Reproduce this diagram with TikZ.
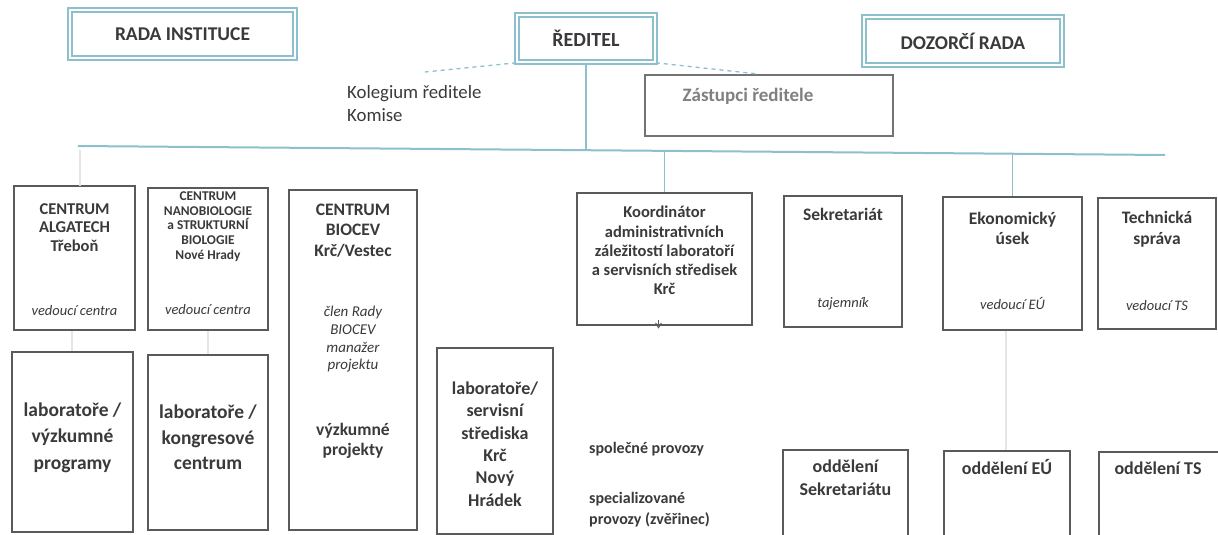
\documentclass[tikz,border=0pt]{standalone}
\usepackage{fontspec}
\setmainfont{Carlito}
\usetikzlibrary{arrows.meta}
\definecolor{tealc}{HTML}{8CC0CD}
\definecolor{boxc}{HTML}{5A5A5A}
\definecolor{txtc}{HTML}{3A3A3A}
\definecolor{greyt}{HTML}{808080}
\newcommand\myfs[2]{\fontsize{#1}{#2}\selectfont}
\tikzset{
  topbox/.style={draw=tealc, double=white, double distance=2.5pt, line width=1.6pt, inner sep=0pt},
  orgbox/.style={draw=boxc, line width=1.3pt, inner sep=0pt},
  greybox/.style={draw=greyt!90!black, line width=1.3pt, inner sep=0pt},
  lbl/.style={text=txtc, align=center, inner sep=0pt, font=\bfseries},
  faint/.style={draw=black!10, line width=1.5pt},
  bus/.style={draw=tealc, line width=2pt},
  dashc/.style={draw=tealc, line width=1.3pt, dash pattern=on 4pt off 4pt}
}
\begin{document}
\begin{tikzpicture}[x=1pt,y=-1pt]
\useasboundingbox[fill=white] (0,0) rectangle (1218,535);
% top boxes
\node[topbox, minimum width=225, minimum height=48] (rada) at (182.5,34) {};
\node[lbl, font=\bfseries\myfs{19.5}{22}] at (rada) {RADA INSTITUCE};
\node[topbox, minimum width=138, minimum height=47] (reditel) at (586,38.5) {};
\node[lbl, font=\bfseries\myfs{20}{22}] at (reditel) {ŘEDITEL};
\node[topbox, minimum width=198, minimum height=48] (dozorci) at (963,41) {};
\node[lbl, font=\bfseries\myfs{19.5}{22}] at (dozorci) {DOZORČÍ RADA};
% kolegium
\node[lbl, align=left, anchor=west, font=\myfs{18.8}{23}] (kolegium) at (347,104) {Kolegium ředitele\\Komise};
\coordinate (kolend) at (425,72);
% zastupci
\node[greybox, minimum width=248, minimum height=61] (zastupci) at (769,105.5) {};
\node[lbl, text=greyt, font=\bfseries\myfs{19}{22}] at (748,96) {Zástupci ředitele};
\coordinate (zastend) at (758,74);
\draw[dashc] (reditel.south west) -- (kolend);
\draw[dashc] (reditel.south east) -- (zastend);
% bus
\coordinate (busL) at (78,146);
\coordinate (busR) at (1165,155);
\draw[bus] (busL) -- (busR);
\draw[bus] (reditel.south) -- (586,148.5);
% row 1 boxes
\node[orgbox, minimum width=121, minimum height=144] (alga) at (74.5,258) {};
\node[lbl, font=\bfseries\myfs{16.5}{18.5}] at (74.5,227.5) {CENTRUM\\ALGATECH\\Třeboň};
\node[lbl, font=\itshape\myfs{14.5}{17}] at (74.5,311) {vedoucí centra};
\node[orgbox, minimum width=120, minimum height=142] (nano) at (208,259) {};
\node[lbl, font=\bfseries\myfs{13.4}{14.8}] at (208,226.5) {CENTRUM\\NANOBIOLOGIE\\a STRUKTURNÍ\\BIOLOGIE\\Nové Hrady};
\node[lbl, font=\itshape\myfs{14.5}{17}] at (208,310) {vedoucí centra};
\node[orgbox, minimum width=128, minimum height=340] (biocev) at (353,360) {};
\node[lbl, font=\bfseries\myfs{17.5}{20.5}] at (353,230.5) {CENTRUM\\BIOCEV\\Krč/Vestec};
\node[lbl, font=\itshape\myfs{15}{17.7}] at (353,339.5) {člen Rady\\BIOCEV\\manažer\\projektu};
\node[lbl, font=\bfseries\myfs{17.5}{20.5}] at (353,441) {výzkumné\\projekty};
\node[orgbox, minimum width=175, minimum height=132] (koord) at (664.5,259) {};
\node[lbl, font=\bfseries\myfs{16.5}{19.2}] at (664.5,250.5) {Koordinátor\\administrativních\\záležitostí laboratoří\\a servisních středisek\\Krč};
\node[orgbox, minimum width=118, minimum height=131] (sekr) at (843,261.5) {};
\node[lbl, font=\bfseries\myfs{17.5}{20}] at (843,214) {Sekretariát};
\node[lbl, font=\itshape\myfs{14.5}{17}] at (843,304) {tajemník};
\node[orgbox, minimum width=139, minimum height=133] (ekon) at (1012.5,263.5) {};
\node[lbl, font=\bfseries\myfs{17.5}{20}] at (1012.5,228) {Ekonomický\\úsek};
\node[lbl, font=\itshape\myfs{14.5}{17}] at (1012.5,303) {vedoucí EÚ};
\node[orgbox, minimum width=118, minimum height=131] (tech) at (1157,263.5) {};
\node[lbl, font=\bfseries\myfs{17.5}{21}] at (1157,229) {Technická\\správa};
\node[lbl, font=\itshape\myfs{14.5}{17}] at (1157,306) {vedoucí TS};
% row 2
\node[orgbox, minimum width=121, minimum height=180] (lab1) at (72.5,442) {};
\node[lbl, font=\bfseries\myfs{19.5}{26.5}] at (72.5,437.5) {laboratoře /\\výzkumné\\programy};
\node[orgbox, minimum width=120, minimum height=175] (lab2) at (208,442.5) {};
\node[lbl, font=\bfseries\myfs{19.5}{25.5}] at (208,437.5) {laboratoře /\\kongresové\\centrum};
\node[orgbox, minimum width=116, minimum height=186] (lab3) at (495,441) {};
\node[lbl, font=\bfseries\myfs{18}{22.4}] at (495,444) {laboratoře/\\servisní\\střediska\\Krč\\Nový\\Hrádek};
\node[lbl, align=left, anchor=west, font=\bfseries\myfs{16}{21}] (spol) at (589,449) {společné provozy};
\node[lbl, align=left, anchor=west, font=\bfseries\myfs{16}{21}] (spec) at (589,509.5) {specializované\\provozy (zvěřinec)};
\node[orgbox, minimum width=125, minimum height=95] (oddsekr) at (845.5,497.5) {};
\node[lbl, font=\bfseries\myfs{18}{23}] at (845.5,478) {oddělení\\Sekretariátu};
\node[orgbox, minimum width=126, minimum height=95] (oddeu) at (1007,498.5) {};
\node[lbl, font=\bfseries\myfs{18}{20}] at (1007,467) {oddělení EÚ};
\node[orgbox, minimum width=122, minimum height=95] (oddts) at (1160,499.5) {};
\node[lbl, font=\bfseries\myfs{18}{20}] at (1158,468) {oddělení TS};
% connectors from bus
\draw[bus, line width=1.4pt] (koord.north |- 0,151) -- (koord.north);
\draw[bus, line width=1.4pt] (ekon.north |- 0,153.5) -- (ekon.north);
\coordinate (karrow) at ([xshift=-6pt]koord.south);
\draw[-{Stealth[length=6pt,width=7pt,open]}, draw=boxc, line width=0.9pt] ([yshift=6pt]karrow) -- ([yshift=-3pt]karrow);
% faint connectors
\draw[faint] (80,150) -- (80,186);
\draw[faint] (alga.south -| 72,0) -- (lab1.north -| 72,0);
\draw[faint] (nano.south) -- (lab2.north);
\draw[faint] (ekon.south -| 1006,0) -- (oddeu.north -| 1006,0);
\end{tikzpicture}
\end{document}
